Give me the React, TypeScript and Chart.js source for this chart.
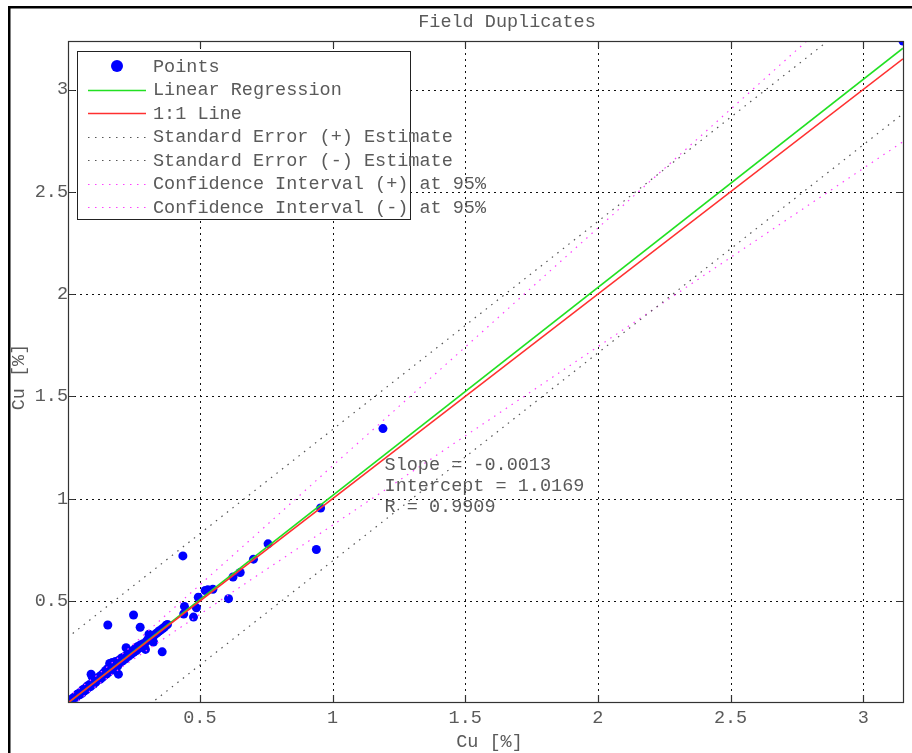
import React, { useEffect, useRef } from "react";
import { Chart, registerables } from "chart.js";

Chart.register(...registerables);

const TITLE = "Field Duplicates";
const X_LABEL = "Cu [%]";
const Y_LABEL = "Cu [%]";
const X_TICKS = [0.5, 1, 1.5, 2, 2.5, 3];
const Y_TICKS = [0.5, 1, 1.5, 2, 2.5, 3];
const X_MIN = 0.003;
const X_MAX = 3.15;
const Y_MIN = 0.007;
const Y_MAX = 3.237;

const LEGEND_NAMES = [
  "Points",
  "Linear Regression",
  "1:1 Line",
  "Standard Error (+) Estimate",
  "Standard Error (-) Estimate",
  "Confidence Interval (+) at 95%",
  "Confidence Interval (-) at 95%",
];

const STATS_TEXT = ["Slope = -0.0013", "Intercept = 1.0169", "R = 0.9909"];
const STATS_POS = [1.196, 1.163];

// duplicate pairs (original, duplicate)
const PTS_X = [
  0.003, 0.008, 0.012, 0.016, 0.02, 0.025, 0.03, 0.034, 0.038, 0.043, 0.047, 0.052, 0.056, 0.06, 0.064,
  0.068, 0.072, 0.076, 0.08, 0.084, 0.088, 0.09, 0.094, 0.096, 0.1, 0.104, 0.108, 0.112, 0.116, 0.12,
  0.124, 0.128, 0.132, 0.136, 0.14, 0.144, 0.148, 0.152, 0.156, 0.16, 0.163, 0.167, 0.17, 0.174, 0.178,
  0.182, 0.186, 0.19, 0.193, 0.196, 0.2, 0.205, 0.21, 0.215, 0.22, 0.222, 0.226, 0.231, 0.236, 0.241,
  0.246, 0.251, 0.256, 0.261, 0.266, 0.271, 0.276, 0.281, 0.286, 0.29, 0.295, 0.298, 0.303, 0.308, 0.312,
  0.318, 0.325, 0.328, 0.334, 0.34, 0.346, 0.352, 0.358, 0.36, 0.366, 0.373, 0.378,
  0.153, 0.25, 0.275, 0.436, 0.439, 0.442, 0.476, 0.487, 0.494, 0.52, 0.53, 0.549, 0.608, 0.625, 0.652,
  0.702, 0.757, 0.939, 0.955, 1.19, 3.15,
];
const PTS_Y = [
  0.007, 0.01, 0.016, 0.014, 0.024, 0.028, 0.034, 0.03, 0.045, 0.048, 0.042, 0.058, 0.05, 0.068, 0.06,
  0.075, 0.066, 0.085, 0.078, 0.092, 0.082, 0.143, 0.13, 0.1, 0.095, 0.112, 0.104, 0.122, 0.114, 0.13,
  0.118, 0.138, 0.126, 0.148, 0.136, 0.16, 0.144, 0.17, 0.152, 0.195, 0.175, 0.162, 0.2, 0.185, 0.172,
  0.205, 0.19, 0.182, 0.143, 0.212, 0.198, 0.222, 0.208, 0.228, 0.218, 0.272, 0.238, 0.23, 0.248, 0.24,
  0.258, 0.25, 0.268, 0.258, 0.278, 0.27, 0.286, 0.28, 0.292, 0.284, 0.264, 0.302, 0.312, 0.338, 0.316,
  0.322, 0.3, 0.334, 0.34, 0.346, 0.354, 0.358, 0.252, 0.366, 0.372, 0.382, 0.386,
  0.383, 0.432, 0.372, 0.721, 0.437, 0.474, 0.422, 0.467, 0.519, 0.552, 0.555, 0.558, 0.512, 0.618, 0.64,
  0.705, 0.78, 0.752, 0.955, 1.343, 3.237,
];

// fitted lines (end points / sampled positions)
const REG_X = [0, 3.15];
const REG_Y = [-0.0013, 3.2019];
const ONE_X = [0, 3.15];
const ONE_Y = [0, 3.15];
const SE_X = [0, 3.15];
const SE_UP_Y = [0.321, 3.525];
const SE_DN_Y = [-0.321, 2.882];
const CI_X = [0, 0.1, 0.2, 0.4, 0.7, 1.0, 1.5, 2.0, 2.5, 3.15];
const CI_UP_Y = [0.03, 0.125, 0.232, 0.464, 0.811, 1.161, 1.741, 2.323, 2.903, 3.659];
const CI_DN_Y = [-0.03, 0.075, 0.172, 0.348, 0.611, 0.871, 1.307, 1.743, 2.179, 2.745];

const FONT = '"Liberation Mono", "Courier New", monospace';
const FS = 18.5;
const TXT = "#5a5a5a";

const zip = (xs: number[], ys: number[]) => xs.map((x, i) => ({ x, y: ys[i] }));

const decor = {
  id: "decor",
  beforeDatasetsDraw(chart: any) {
    const { ctx, chartArea: a, scales } = chart;
    const xs = scales.x;
    const ys = scales.y;
    ctx.save();
    ctx.strokeStyle = "#111";
    ctx.lineWidth = 1;
    ctx.setLineDash([2, 4]);
    for (const v of X_TICKS) {
      const px = Math.round(xs.getPixelForValue(v)) + 0.5;
      ctx.beginPath();
      ctx.moveTo(px, a.top);
      ctx.lineTo(px, a.bottom);
      ctx.stroke();
    }
    for (const v of Y_TICKS) {
      const py = Math.round(ys.getPixelForValue(v)) + 0.5;
      ctx.beginPath();
      ctx.moveTo(a.left, py);
      ctx.lineTo(a.right, py);
      ctx.stroke();
    }
    ctx.restore();
  },
  afterDatasetsDraw(chart: any) {
    const { ctx, chartArea: a, scales } = chart;
    const xs = scales.x;
    const ys = scales.y;
    ctx.save();
    // axes box
    ctx.setLineDash([]);
    ctx.strokeStyle = "#333";
    ctx.lineWidth = 1.2;
    ctx.strokeRect(Math.round(a.left) + 0.5, Math.round(a.top) + 0.5, Math.round(a.right - a.left), Math.round(a.bottom - a.top));
    // inward tick marks
    const tl = 7;
    ctx.lineWidth = 1.2;
    for (const v of X_TICKS) {
      const px = Math.round(xs.getPixelForValue(v)) + 0.5;
      ctx.beginPath();
      ctx.moveTo(px, a.bottom);
      ctx.lineTo(px, a.bottom - tl);
      ctx.moveTo(px, a.top);
      ctx.lineTo(px, a.top + tl);
      ctx.stroke();
    }
    for (const v of Y_TICKS) {
      const py = Math.round(ys.getPixelForValue(v)) + 0.5;
      ctx.beginPath();
      ctx.moveTo(a.left, py);
      ctx.lineTo(a.left + tl, py);
      ctx.moveTo(a.right, py);
      ctx.lineTo(a.right - tl, py);
      ctx.stroke();
    }
    // statistics text
    ctx.font = `${FS}px ${FONT}`;
    ctx.fillStyle = TXT;
    ctx.textAlign = "left";
    ctx.textBaseline = "middle";
    const sx = xs.getPixelForValue(STATS_POS[0]);
    const sy = ys.getPixelForValue(STATS_POS[1]);
    STATS_TEXT.forEach((t, i) => ctx.fillText(t, sx, sy + i * 21));

    // legend
    const lx = 77;
    const ly = 51;
    const lw = 333;
    const lh = 168;
    ctx.fillStyle = "#fff";
    ctx.fillRect(lx, ly, lw, lh);
    ctx.strokeStyle = "#222";
    ctx.lineWidth = 1;
    ctx.strokeRect(lx + 0.5, ly + 0.5, lw, lh);
    const ds = chart.data.datasets;
    LEGEND_NAMES.forEach((name, i) => {
      const y = 66 + i * 23.5;
      const d = ds[i];
      if (i === 0) {
        ctx.fillStyle = d.backgroundColor;
        ctx.beginPath();
        ctx.arc(117, y, 6, 0, Math.PI * 2);
        ctx.fill();
      } else {
        ctx.strokeStyle = d.borderColor;
        ctx.lineWidth = d.borderWidth;
        ctx.setLineDash(d.borderDash || []);
        ctx.beginPath();
        ctx.moveTo(88, Math.round(y) + 0.5);
        ctx.lineTo(146, Math.round(y) + 0.5);
        ctx.stroke();
        ctx.setLineDash([]);
      }
      ctx.fillStyle = TXT;
      ctx.font = `${FS}px ${FONT}`;
      ctx.textAlign = "left";
      ctx.textBaseline = "middle";
      ctx.fillText(name, 153, y + 1);
    });
    ctx.restore();
  },
  afterDraw(chart: any) {
    const { ctx, chartArea: a } = chart;
    ctx.save();
    ctx.font = `${FS}px ${FONT}`;
    ctx.fillStyle = TXT;
    ctx.textAlign = "center";
    ctx.textBaseline = "middle";
    ctx.fillText(TITLE, 507, 22);
    ctx.fillText(X_LABEL, (a.left + a.right) / 2 + 4, 742);
    ctx.translate(19, 377);
    ctx.rotate(-Math.PI / 2);
    ctx.fillText(Y_LABEL, 0, 0);
    ctx.restore();
    // figure frame
    ctx.save();
    ctx.fillStyle = "#000";
    ctx.fillRect(8, 6, 920, 2.5);
    ctx.fillRect(8, 6, 2.5, 760);
    ctx.restore();
  },
};

export default function App() {
  const ref = useRef<HTMLCanvasElement | null>(null);
  useEffect(() => {
    if (!ref.current) return;
    const dotted = [1.5, 5.5];
    const chart = new Chart(ref.current, {
      type: "scatter",
      data: {
        datasets: [
          {
            label: LEGEND_NAMES[0],
            data: zip(PTS_X, PTS_Y),
            backgroundColor: "#0000ff",
            borderColor: "#0000ff",
            borderWidth: 0,
            pointRadius: 4.5,
            order: 10,
          },
          {
            label: LEGEND_NAMES[1],
            data: zip(REG_X, REG_Y),
            showLine: true,
            borderColor: "#22e022",
            backgroundColor: "#22e022",
            borderWidth: 1.6,
            pointRadius: 0,
            order: 5,
          },
          {
            label: LEGEND_NAMES[2],
            data: zip(ONE_X, ONE_Y),
            showLine: true,
            borderColor: "#ff3030",
            backgroundColor: "#ff3030",
            borderWidth: 1.6,
            pointRadius: 0,
            order: 4,
          },
          {
            label: LEGEND_NAMES[3],
            data: zip(SE_X, SE_UP_Y),
            showLine: true,
            borderColor: "#555",
            borderWidth: 1.2,
            borderDash: dotted,
            pointRadius: 0,
            order: 6,
          },
          {
            label: LEGEND_NAMES[4],
            data: zip(SE_X, SE_DN_Y),
            showLine: true,
            borderColor: "#555",
            borderWidth: 1.2,
            borderDash: dotted,
            pointRadius: 0,
            order: 6,
          },
          {
            label: LEGEND_NAMES[5],
            data: zip(CI_X, CI_UP_Y),
            showLine: true,
            borderColor: "#ff40ff",
            borderWidth: 1.2,
            borderDash: dotted,
            pointRadius: 0,
            order: 7,
          },
          {
            label: LEGEND_NAMES[6],
            data: zip(CI_X, CI_DN_Y),
            showLine: true,
            borderColor: "#ff40ff",
            borderWidth: 1.2,
            borderDash: dotted,
            pointRadius: 0,
            order: 7,
          },
        ],
      },
      options: {
        animation: false,
        responsive: true,
        maintainAspectRatio: false,
        layout: { padding: { left: 0, top: 41, right: 9, bottom: 0 } },
        plugins: { legend: { display: false }, tooltip: { enabled: false }, title: { display: false } },
        scales: {
          x: {
            type: "linear",
            min: X_MIN,
            max: X_MAX,
            grid: { display: false, drawTicks: false },
            border: { display: false },
            afterBuildTicks: (s: any) => {
              s.ticks = X_TICKS.map((v) => ({ value: v }));
            },
            afterFit: (s: any) => {
              s.height = 51;
            },
            ticks: {
              autoSkip: false,
              maxRotation: 0,
              padding: 5,
              color: TXT,
              font: { family: FONT, size: FS },
              callback: (v: any) => String(v),
            },
          },
          y: {
            type: "linear",
            min: Y_MIN,
            max: Y_MAX,
            grid: { display: false, drawTicks: false },
            border: { display: false },
            afterBuildTicks: (s: any) => {
              s.ticks = Y_TICKS.map((v) => ({ value: v }));
            },
            afterFit: (s: any) => {
              s.width = 68;
            },
            ticks: {
              autoSkip: false,
              padding: 0,
              color: TXT,
              font: { family: FONT, size: FS },
              callback: (v: any) => String(v),
            },
          },
        },
      },
      plugins: [decor],
    });
    return () => chart.destroy();
  }, []);
  return (
    <div style={{ position: "absolute", left: 0, top: 0, width: 912, height: 753, background: "#fff" }}>
      <canvas ref={ref} />
    </div>
  );
}
